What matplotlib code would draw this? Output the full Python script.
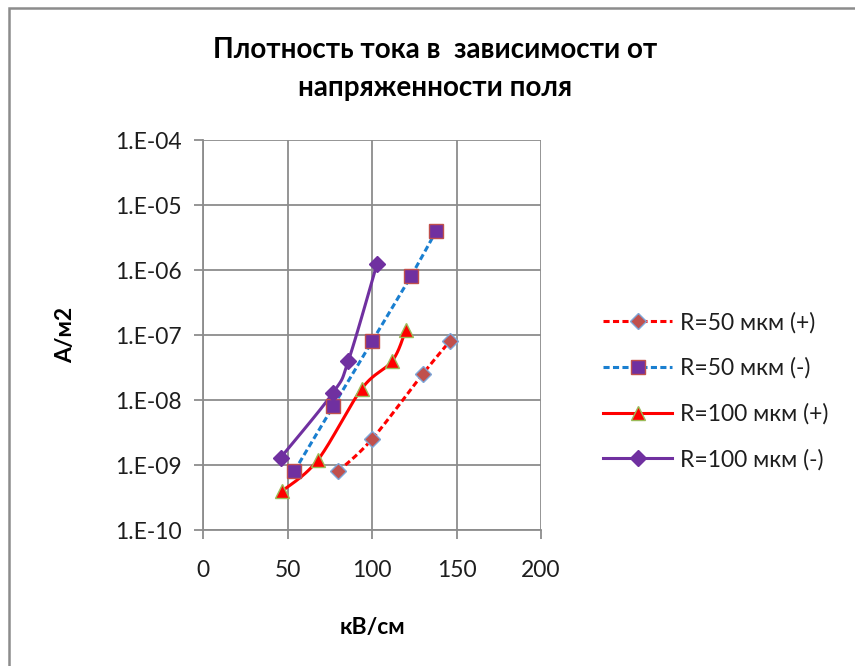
import numpy as np
import matplotlib
matplotlib.use("Agg")
import matplotlib.pyplot as plt
from matplotlib.ticker import FixedLocator, FuncFormatter, NullLocator
from matplotlib.patches import Rectangle

plt.rcParams['font.family'] = ['Lato', 'Noto Sans', 'DejaVu Sans']

# Current density vs. field strength
x_50_pos = [80, 100, 130, 146]
y_50_pos = [8e-10, 2.5e-9, 2.5e-8, 8e-8]

x_50_neg = [54, 77, 100, 123, 138]
y_50_neg = [8e-10, 8e-9, 8e-8, 8e-7, 4e-6]

x_100_pos = [47, 68, 94, 112, 120]
y_100_pos = [4e-10, 1.2e-9, 1.5e-8, 4e-8, 1.2e-7]

x_100_neg = [46, 77, 86, 103]
y_100_neg = [1.3e-9, 1.3e-8, 4e-8, 1.25e-6]

labels = ["R=50 мкм (+)", "R=50 мкм (-)", "R=100 мкм (+)", "R=100 мкм (-)"]
x_ticks = [0, 50, 100, 150, 200]
y_ticks = [1e-10, 1e-9, 1e-8, 1e-7, 1e-6, 1e-5, 1e-4]


def smooth(xs, ys, n=40):
    """Bezier smoothing through the points (x linear, y in log space)."""
    px = np.asarray(xs, float)
    py = np.log10(np.asarray(ys, float))
    m = len(px)
    out_x, out_y = [px[0]], [py[0]]
    t = np.linspace(0, 1, n)[1:]
    for i in range(m - 1):
        p0 = np.array([px[i], py[i]])
        p3 = np.array([px[i + 1], py[i + 1]])
        prev = np.array([px[i - 1], py[i - 1]]) if i > 0 else p0
        nxt = np.array([px[i + 2], py[i + 2]]) if i + 2 < m else p3
        c1 = p0 + (p3 - prev) / 6.0
        c2 = p3 - (nxt - p0) / 6.0
        b = ((1 - t) ** 3)[:, None] * p0 + (3 * (1 - t) ** 2 * t)[:, None] * c1 \
            + (3 * (1 - t) * t ** 2)[:, None] * c2 + (t ** 3)[:, None] * p3
        out_x.extend(b[:, 0])
        out_y.extend(b[:, 1])
    return np.array(out_x), 10 ** np.array(out_y)


fig = plt.figure(figsize=(8.55, 6.66), dpi=100)
ax = fig.add_axes([203 / 855, 1 - 530 / 666, 338 / 855, 390 / 666])
ax.set_yscale('log')

lw = 2.2
series = [
    (x_50_pos, y_50_pos, dict(color='#FF0000', linestyle=(0, (2, 1.1))),
     dict(marker='D', markersize=8, markerfacecolor='#C0504D', markeredgecolor='#7EA6D8', markeredgewidth=1)),
    (x_50_neg, y_50_neg, dict(color='#1A7FD0', linestyle=(0, (2, 1.1))),
     dict(marker='s', markersize=9.5, markerfacecolor='#7030A0', markeredgecolor='#C0504D', markeredgewidth=1)),
    (x_100_pos, y_100_pos, dict(color='#FF0000', linestyle='-'),
     dict(marker='^', markersize=10, markerfacecolor='#FF0000', markeredgecolor='#9BBB59', markeredgewidth=1)),
    (x_100_neg, y_100_neg, dict(color='#7030A0', linestyle='-'),
     dict(marker='D', markersize=8, markerfacecolor='#7030A0', markeredgecolor='#7030A0', markeredgewidth=1)),
]

handles = []
for (xs, ys, lstyle, mstyle), lab in zip(series, labels):
    sx, sy = smooth(xs, ys)
    ax.plot(sx, sy, linewidth=lw, zorder=3, **lstyle)
    ax.plot(xs, ys, linestyle='none', zorder=4, **mstyle)
    h, = ax.plot([], [], linewidth=lw, label=lab, **lstyle, **mstyle)
    handles.append(h)

ax.set_xlim(0, 200)
ax.set_ylim(1e-10, 1e-4)
ax.xaxis.set_major_locator(FixedLocator(x_ticks))
ax.yaxis.set_major_locator(FixedLocator(y_ticks))
ax.yaxis.set_minor_locator(NullLocator())
ax.yaxis.set_major_formatter(FuncFormatter(lambda v, p: "1.E%+03d" % int(round(np.log10(v)))))

ax.grid(True, color='#8C8C8C', linewidth=1.3, zorder=0)
for s in ['top', 'right']:
    ax.spines[s].set_visible(False)
for s in ['left', 'bottom']:
    ax.spines[s].set_color('#8C8C8C')
    ax.spines[s].set_linewidth(1.3)
ax.tick_params(axis='both', which='major', length=6.5, width=1.3, color='#8C8C8C',
               labelsize=16.5, labelcolor='#1E1E1E', direction='out')
ax.tick_params(axis='y', pad=9)
ax.tick_params(axis='x', pad=15)
ax.set_axisbelow(True)

ax.set_xlabel("кВ/см", fontsize=16.5, fontweight='bold', labelpad=26)
ax.set_ylabel("A/м2", fontsize=16.5, fontweight='bold', labelpad=28)

fig.text(435 / 855, 1 - 50 / 666, "Плотность тока в  зависимости от", ha='center', va='center',
         fontsize=20, fontweight='bold')
fig.text(435 / 855, 1 - 88 / 666, "напряженности поля", ha='center', va='center',
         fontsize=20, fontweight='bold')

fig.legend(handles=handles, loc='center left', bbox_to_anchor=(592 / 855, 1 - 391 / 666),
           frameon=False, fontsize=16.5, handlelength=3.0, handletextpad=0.35,
           labelspacing=1.05, borderpad=0, labelcolor='#1E1E1E')

fig.patches.append(Rectangle((9 / 855, -0.1), 1.2, 1 - 8 / 666 + 0.1, transform=fig.transFigure,
                             fill=False, edgecolor='#8C8C8C', linewidth=1.8))

fig.savefig("out.png", dpi=100)
